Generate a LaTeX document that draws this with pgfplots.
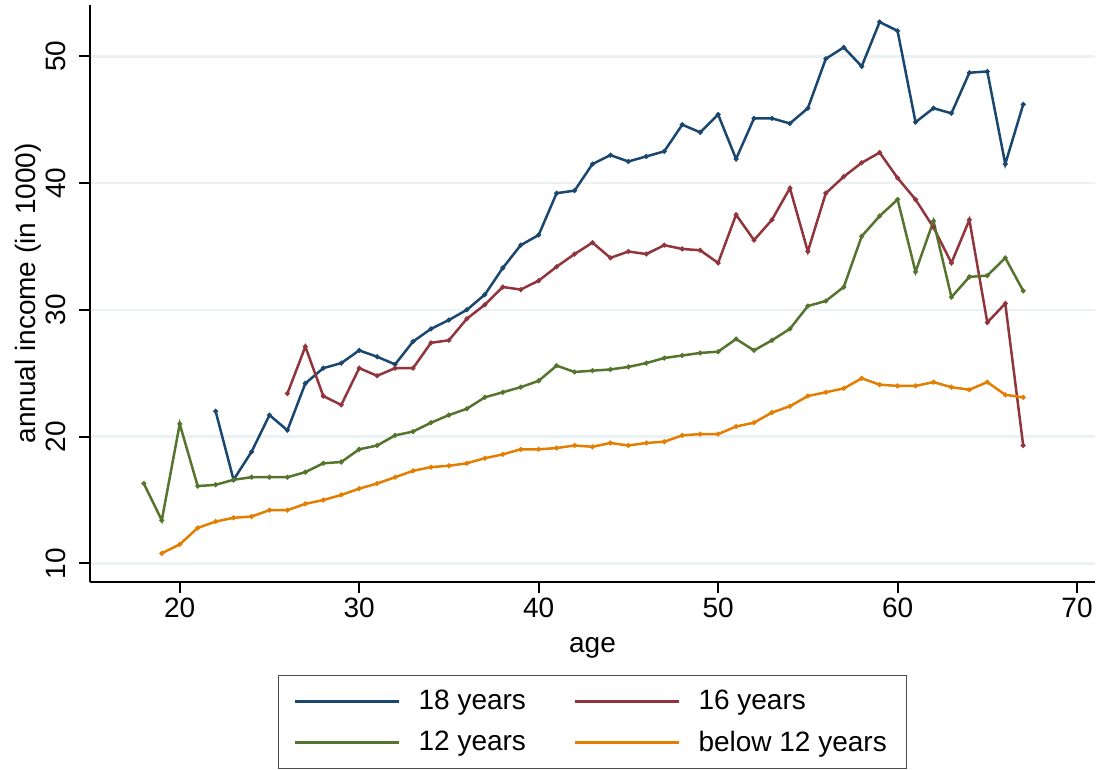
\documentclass[border=0pt]{standalone}
\usepackage{pgfplots}
\pgfplotsset{compat=1.18}
\usepackage{fontspec}
\setmainfont{Liberation Sans}

\definecolor{snavy}{RGB}{26,71,111}
\definecolor{smaroon}{RGB}{144,53,59}
\definecolor{sgreen}{RGB}{85,117,47}
\definecolor{sorange}{RGB}{227,126,0}
\definecolor{sgrid}{RGB}{234,242,243}

\begin{document}
\begin{tikzpicture}
\begin{axis}[
    scale only axis,
    width=502.5pt, height=288.4pt,
    font=\fontsize{14}{17}\selectfont,
    /pgf/number format/assume math mode=true,
    xmin=15, xmax=71, ymin=8.56, ymax=54.05,
    xtick={20,30,...,70}, ytick={10,20,...,50},
    axis x line*=bottom, axis y line*=left,
    axis line style={line width=1pt, -},
    tick align=outside,
    major tick length=5.5pt,
    tick style={line width=1pt, black},
    ymajorgrids,
    grid style={sgrid, line width=1.3pt},
    yticklabel style={rotate=90, anchor=south, inner sep=0pt},
    yticklabel shift=6.5pt,
    xticklabel style={anchor=north, inner sep=0pt},
    xticklabel shift=2.5pt,
    xlabel=age,
    xlabel style={at={(axis description cs:0.5,0)}, anchor=north, inner sep=0pt, yshift=-27.7pt},
    ylabel={annual income (in 1000)},
    ylabel style={at={([xshift=-24pt]axis description cs:0,0.5)}, anchor=south, inner sep=0pt},
    every axis plot/.append style={line width=1.25pt, mark=*, mark size=0.5pt},
    legend columns=2,
    legend cell align=left,
    legend image code/.code={\draw[#1] (0pt,0pt) -- (52pt,0pt);},
    legend style={at={(0.5,0)}, anchor=north, yshift=-46.7pt,
        draw=black!70, line width=0.6pt,
        inner xsep=8pt, inner ysep=5.3pt, row sep=5pt,
        /tikz/every odd column/.append style={column sep=7pt},
        /tikz/every even column/.append style={column sep=22pt}},
]
\coordinate (o) at (rel axis cs:0,0);
\addplot[snavy] coordinates {(22,22.0)(23,16.6)(24,18.8)(25,21.7)(26,20.5)(27,24.2)(28,25.4)(29,25.8)(30,26.8)(31,26.3)(32,25.7)(33,27.5)(34,28.5)(35,29.2)(36,30.0)(37,31.2)(38,33.3)(39,35.1)(40,35.9)(41,39.2)(42,39.4)(43,41.5)(44,42.2)(45,41.7)(46,42.1)(47,42.5)(48,44.6)(49,44.0)(50,45.4)(51,41.9)(52,45.1)(53,45.1)(54,44.7)(55,45.9)(56,49.8)(57,50.7)(58,49.2)(59,52.7)(60,52.0)(61,44.8)(62,45.9)(63,45.5)(64,48.7)(65,48.8)(66,41.5)(67,46.2)};
\addplot[smaroon] coordinates {(26,23.4)(27,27.1)(28,23.2)(29,22.5)(30,25.4)(31,24.8)(32,25.4)(33,25.4)(34,27.4)(35,27.6)(36,29.3)(37,30.4)(38,31.8)(39,31.6)(40,32.3)(41,33.4)(42,34.4)(43,35.3)(44,34.1)(45,34.6)(46,34.4)(47,35.1)(48,34.8)(49,34.7)(50,33.7)(51,37.5)(52,35.5)(53,37.1)(54,39.6)(55,34.6)(56,39.2)(57,40.5)(58,41.6)(59,42.4)(60,40.4)(61,38.7)(62,36.5)(63,33.7)(64,37.1)(65,29.0)(66,30.5)(67,19.3)};
\addplot[sgreen] coordinates {(18,16.3)(19,13.4)(20,21.0)(21,16.1)(22,16.2)(23,16.6)(24,16.8)(25,16.8)(26,16.8)(27,17.2)(28,17.9)(29,18.0)(30,19.0)(31,19.3)(32,20.1)(33,20.4)(34,21.1)(35,21.7)(36,22.2)(37,23.1)(38,23.5)(39,23.9)(40,24.4)(41,25.6)(42,25.1)(43,25.2)(44,25.3)(45,25.5)(46,25.8)(47,26.2)(48,26.4)(49,26.6)(50,26.7)(51,27.7)(52,26.8)(53,27.6)(54,28.5)(55,30.3)(56,30.7)(57,31.8)(58,35.8)(59,37.4)(60,38.7)(61,33.0)(62,37.0)(63,31.0)(64,32.6)(65,32.7)(66,34.1)(67,31.5)};
\addplot[sorange] coordinates {(19,10.8)(20,11.5)(21,12.8)(22,13.3)(23,13.6)(24,13.7)(25,14.2)(26,14.2)(27,14.7)(28,15.0)(29,15.4)(30,15.9)(31,16.3)(32,16.8)(33,17.3)(34,17.6)(35,17.7)(36,17.9)(37,18.3)(38,18.6)(39,19.0)(40,19.0)(41,19.1)(42,19.3)(43,19.2)(44,19.5)(45,19.3)(46,19.5)(47,19.6)(48,20.1)(49,20.2)(50,20.2)(51,20.8)(52,21.1)(53,21.9)(54,22.4)(55,23.2)(56,23.5)(57,23.8)(58,24.6)(59,24.1)(60,24.0)(61,24.0)(62,24.3)(63,23.9)(64,23.7)(65,24.3)(66,23.3)(67,23.1)};
\legend{18 years, 16 years, 12 years, below 12 years}
\end{axis}
\pgfresetboundingbox
\path (o) ++(-45pt,-94.15pt) rectangle ++(551pt,385pt);
\end{tikzpicture}
\end{document}
